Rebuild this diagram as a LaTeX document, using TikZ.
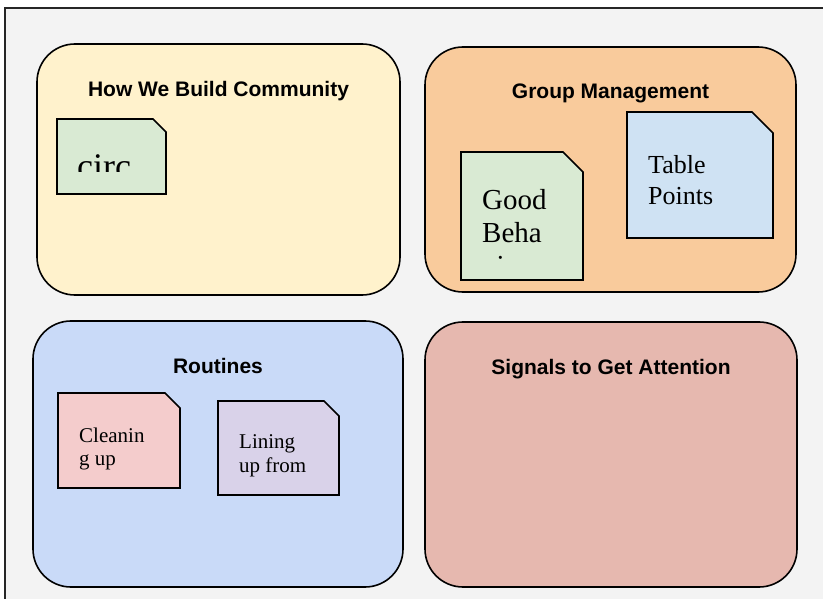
\documentclass[tikz,border=0pt]{standalone}
\usepackage{fontspec}
\setmainfont{Liberation Serif}
\newfontfamily\titlefont{Liberation Sans}
\usepackage{xcolor}

\definecolor{canvas}{HTML}{F3F3F3}
\definecolor{paneyellow}{HTML}{FFF2CC}
\definecolor{paneorange}{HTML}{F9CB9C}
\definecolor{paneblue}{HTML}{C9DAF8}
\definecolor{panered}{HTML}{E6B8AF}
\definecolor{notegreen}{HTML}{D9EAD3}
\definecolor{noteblue}{HTML}{CFE2F3}
\definecolor{notepink}{HTML}{F4CCCC}
\definecolor{notepurple}{HTML}{D9D2E9}

\tikzset{
    panel/.style={draw=black, line width=1.6pt, rounded corners=38pt},
    sticky/.style={draw=black, line width=1.6pt},
    heading/.style={font=\titlefont\bfseries\fontsize{21}{25}\selectfont, anchor=base, inner sep=0pt},
    notetext/.style={anchor=base west, inner sep=0pt}
}

\begin{document}
\begin{tikzpicture}[x=1pt,y=-1pt]
                    \useasboundingbox (0,0) rectangle (823,599);
                    \fill[canvas] (5,8) rectangle (823,599);
                    \draw[black!85,line width=1.2pt] (5,599) -- (5,8) -- (823,8);

                    % four panels
                    \draw[panel,fill=paneyellow] (37,44) rectangle (400,295);
                    \draw[panel,fill=paneorange] (425,47) rectangle (796,292);
                    \draw[panel,fill=paneblue] (33,321) rectangle (403,587);
                    \draw[panel,fill=panered] (425,322) rectangle (797,587);
                    \node[heading] (community) at (218.5,97) {How We Build Community};
                    \node[heading] (groupmgmt) at (610.5,99) {Group Management};
                    \node[heading] (routines) at (218,373) {Routines};
                    \node[heading] (signals) at (611,374) {Signals to Get Attention};

                    % sticky notes
                    \draw[sticky,fill=notegreen] (57,119) -- (153,119) -- (166,132) -- (166,194) -- (57,194) -- cycle;
                    \begin{scope}
                        \clip (57,119) rectangle (166,172);
                        \node[notetext,font=\fontsize{36}{41}\selectfont] (circ) at (77,179) {circ};
                    \end{scope}

                    \draw[sticky,fill=notegreen] (461,152) -- (563,152) -- (583,172) -- (583,280) -- (461,280) -- cycle;
                    \begin{scope}
                        \clip (461,152) rectangle (583,260);
                        \node[notetext,font=\fontsize{29}{33}\selectfont] (behaviour) at (482,210) {\vtop{\hbox{Good}\hbox{Beha}\hbox{vior}}};
                    \end{scope}

                    \draw[sticky,fill=noteblue] (627,112) -- (752,112) -- (773,133) -- (773,238) -- (627,238) -- cycle;
                    \node[notetext,font=\fontsize{26}{31}\selectfont] (tablepts) at (648,174) {\vtop{\hbox{Table}\hbox{Points}}};

                    \draw[sticky,fill=notepink] (58,393) -- (165,393) -- (180,408) -- (180,488) -- (58,488) -- cycle;
                    \node[notetext,font=\fontsize{21}{23}\selectfont] (cleaning) at (79,442) {\vtop{\hbox{Cleanin}\hbox{g up}}};

                    \draw[sticky,fill=notepurple] (218,401) -- (324,401) -- (339,416) -- (339,495) -- (218,495) -- cycle;
                    \node[notetext,font=\fontsize{21}{24}\selectfont] (lining) at (239,448) {\vtop{\hbox{Lining}\hbox{up from}}};
                \end{tikzpicture}
\end{document}
